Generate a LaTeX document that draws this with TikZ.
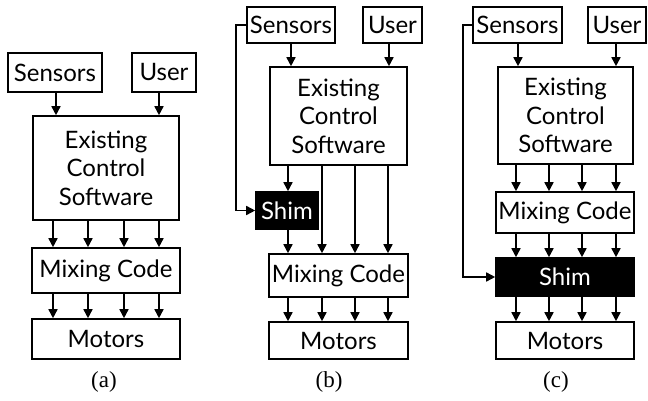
\documentclass[tikz,border=0pt]{standalone}
\usepackage{fontspec}
\setmainfont{Lato}
\newfontfamily\capfont{Liberation Serif}
\usetikzlibrary{arrows.meta}
\begin{document}
\begin{tikzpicture}[x=1pt,y=-1pt,
  box/.style={draw,line width=1.6pt,inner sep=0pt,align=center,
    font=\fontsize{24}{28.5}\selectfont},
  shimbox/.style={box,fill=black,text=white},
  arr/.style={line width=1.6pt,-{Triangle[width=9pt,length=9pt]}},
  subcap/.style={font=\capfont\fontsize{23}{26}\selectfont}]
\useasboundingbox (0,0) rectangle (648,401);

% ---------- (a) ----------
\node[box,minimum width=94pt,minimum height=39pt] (sensA) at (55,72.5) {Sensors};
\node[box,minimum width=64pt,minimum height=39pt] (userA) at (164,72.5) {User};
\node[box,minimum width=146pt,minimum height=104pt] (ecsA) at (106,168) {Existing\\Control\\Software};
\node[box,minimum width=148pt,minimum height=45pt] (mixA) at (106,270.5) {Mixing Code};
\node[box,minimum width=148pt,minimum height=40pt] (motA) at (106,339) {Motors};
\node[subcap] (capA) at (104,382) {(a)};
\draw[arr] (sensA.south -| 56,0) -- (ecsA.north -| 56,0);
\draw[arr] (userA.south -| 159,0) -- (ecsA.north -| 159,0);
\foreach \x in {53,88,124,159}{
  \draw[arr] (ecsA.south -| \x,0) -- (mixA.north -| \x,0);
  \draw[arr] (mixA.south -| \x,0) -- (motA.north -| \x,0);
}

% ---------- (b) ----------
\node[box,minimum width=88pt,minimum height=36pt] (sensB) at (291,25) {Sensors};
\node[box,minimum width=59pt,minimum height=36pt] (userB) at (392.5,25) {User};
\node[box,minimum width=137pt,minimum height=98pt] (ecsB) at (338.5,116) {Existing\\Control\\Software};
\node[shimbox,minimum width=62pt,minimum height=37pt] (shimB) at (287,210.5) {Shim};
\node[box,minimum width=139pt,minimum height=43pt] (mixB) at (338.5,275.5) {Mixing Code};
\node[box,minimum width=139pt,minimum height=37pt] (motB) at (338.5,340.5) {Motors};
\node[subcap] (capB) at (329,382) {(b)};
\draw[arr] (sensB.south -| 291,0) -- (ecsB.north -| 291,0);
\draw[arr] (userB.south -| 389,0) -- (ecsB.north -| 389,0);
\draw[arr] (ecsB.south -| 288,0) -- (shimB.north -| 288,0);
\draw[arr] (shimB.south -| 288,0) -- (mixB.north -| 288,0);
\foreach \x in {322,355,388}{
  \draw[arr] (ecsB.south -| \x,0) -- (mixB.north -| \x,0);
}
\foreach \x in {288,322,355,388}{
  \draw[arr] (mixB.south -| \x,0) -- (motB.north -| \x,0);
}
\draw[arr] (sensB.west) -| (236,210.5) -- (shimB.west);

% ---------- (c) ----------
\node[box,minimum width=89pt,minimum height=36pt] (sensC) at (517.5,25) {Sensors};
\node[box,minimum width=58pt,minimum height=36pt] (userC) at (617,25) {User};
\node[box,minimum width=135pt,minimum height=97pt] (ecsC) at (565.5,115.5) {Existing\\Control\\Software};
\node[box,minimum width=138pt,minimum height=41pt] (mixC) at (565,212.5) {Mixing Code};
\node[shimbox,minimum width=138pt,minimum height=38pt] (shimC) at (565,277) {Shim};
\node[box,minimum width=138pt,minimum height=37pt] (motC) at (565,340.5) {Motors};
\node[subcap] (capC) at (556,382) {(c)};
\draw[arr] (sensC.south -| 518,0) -- (ecsC.north -| 518,0);
\draw[arr] (userC.south -| 616,0) -- (ecsC.north -| 616,0);
\foreach \x in {516,549,582,616}{
  \draw[arr] (ecsC.south -| \x,0) -- (mixC.north -| \x,0);
  \draw[arr] (mixC.south -| \x,0) -- (shimC.north -| \x,0);
  \draw[arr] (shimC.south -| \x,0) -- (motC.north -| \x,0);
}
\draw[arr] (sensC.west) -| (463,277) -- (shimC.west);
\end{tikzpicture}
\end{document}
